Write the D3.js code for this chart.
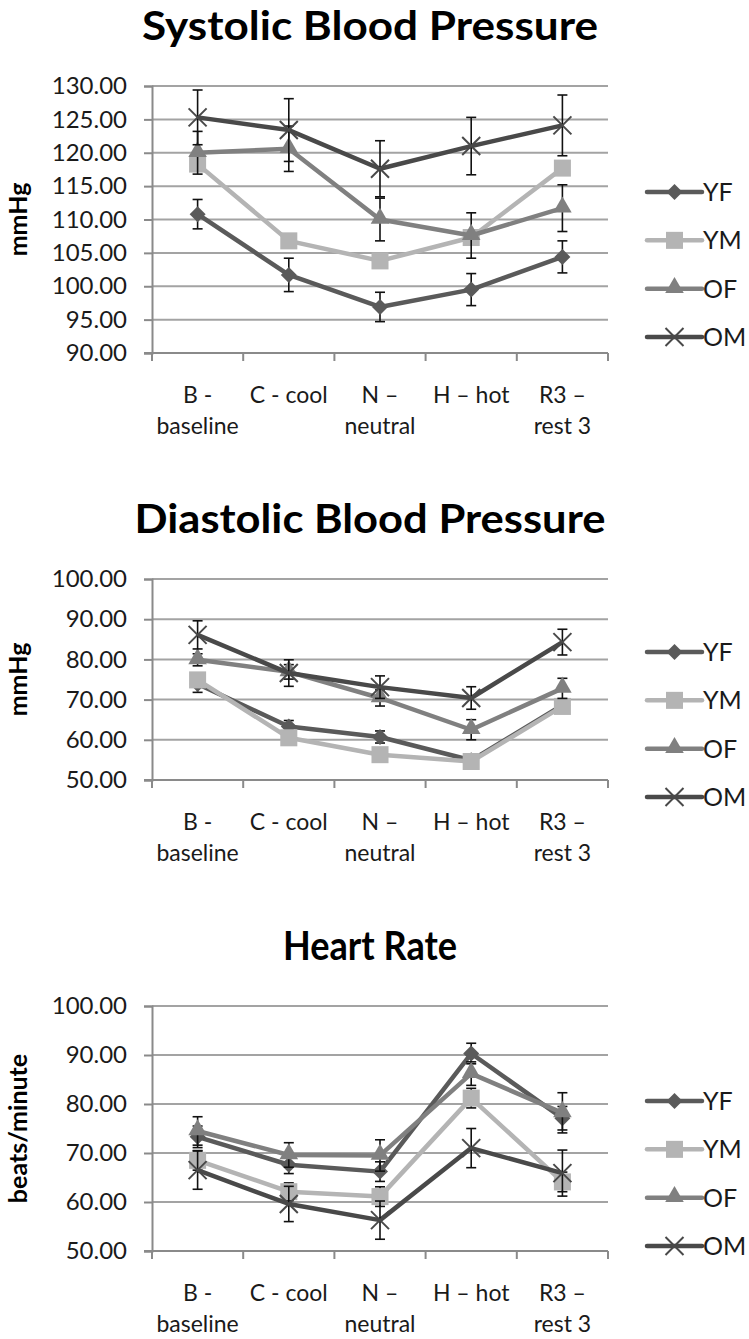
<!DOCTYPE html>
<html><head><meta charset="utf-8">
<script src="https://cdn.jsdelivr.net/npm/d3@7"></script>
<style>
body{margin:0;background:#fff}
svg{display:block;font-family:Lato,"Open Sans",sans-serif}
</style>
</head><body>
<svg id="c" width="749" height="1339"></svg>
<script>
// ---------- data ----------
const categories = ["B -\nbaseline", "C - cool", "N –\nneutral", "H – hot", "R3 –\nrest 3"];
const seriesNames = ["YF", "YM", "OF", "OM"];

const sbpTicks = [90, 95, 100, 105, 110, 115, 120, 125, 130];
const sbpYF = [110.8, 101.7, 96.9, 99.5, 104.4];
const sbpYM = [118.3, 106.8, 103.8, 107.3, 117.7];
const sbpOF = [120.0, 120.6, 110.0, 107.6, 111.7];
const sbpOM = [125.3, 123.4, 117.6, 121.0, 124.1];
const sbpYFerr = [2.2, 2.5, 2.2, 2.4, 2.4];
const sbpYMerr = [1.0, 1.0, 1.0, 1.0, 1.0];
const sbpOFerr = [3.2, 3.4, 3.2, 3.4, 3.5];
const sbpOMerr = [4.1, 4.7, 4.2, 4.3, 4.55];

const dbpTicks = [50, 60, 70, 80, 90, 100];
const dbpYF = [73.9, 63.3, 60.7, 54.9, 68.6];
const dbpYM = [74.9, 60.5, 56.3, 54.6, 68.3];
const dbpOF = [79.9, 76.9, 70.4, 62.5, 72.8];
const dbpOM = [86.1, 76.6, 73.1, 70.4, 84.3];
const dbpYFerr = [2.1, 1.5, 1.5, 1.2, 1.5];
const dbpYMerr = [1.5, 1.5, 1.5, 1.2, 1.5];
const dbpOFerr = [1.5, 1.8, 2.0, 2.5, 2.5];
const dbpOMerr = [3.5, 3.3, 2.8, 2.8, 3.2];

const hrTicks = [50, 60, 70, 80, 90, 100];
const hrYF = [73.3, 67.6, 66.2, 90.3, 77.1];
const hrYM = [68.5, 62.1, 61.1, 81.2, 64.1];
const hrOF = [74.5, 69.6, 69.5, 86.2, 78.2];
const hrOM = [66.5, 59.6, 56.3, 71.0, 65.9];
const hrYFerr = [2.2, 1.8, 2.0, 2.1, 2.4];
const hrYMerr = [2.0, 1.8, 2.0, 2.0, 2.0];
const hrOFerr = [2.9, 2.5, 3.2, 2.4, 4.1];
const hrOMerr = [3.9, 3.6, 3.9, 4.0, 4.7];

// ---------- styles ----------
const colors = {YF: "#5a5a5a", YM: "#b4b4b4", OF: "#808080", OM: "#494949"};
const gridColor = "#a3a3a3";
const axisColor = "#8a8a8a";

const svg = d3.select("#c");

function marker(g, name, color) {
  if (name === "YF") {
    g.append("path").attr("d", d3.symbol(d3.symbolSquare, 128)()).attr("transform", "rotate(45)").attr("fill", color);
  } else if (name === "YM") {
    g.append("path").attr("d", d3.symbol(d3.symbolSquare, 290)()).attr("fill", color);
  } else if (name === "OF") {
    g.append("path").attr("d", d3.symbol(d3.symbolTriangle, 150)()).attr("transform", "translate(0,-1)").attr("fill", color);
  } else {
    g.append("path").attr("d", "M-9,-9L9,9M-9,9L9,-9").attr("stroke", color).attr("stroke-width", 2).attr("fill", "none");
  }
}

function drawChart(cfg) {
  const left = 152, right = 608;
  const g = svg.append("g");
  const x = d3.scaleBand().domain(categories).range([left, right]).padding(0);
  const cx = c => x(c) + x.bandwidth() / 2;
  const y = d3.scaleLinear().domain([cfg.ticks[0], cfg.ticks[cfg.ticks.length - 1]]).range([cfg.bottom, cfg.top]);

  // title
  g.append("text").attr("x", 370).attr("y", cfg.top - 46).attr("text-anchor", "middle")
    .attr("font-size", 40).attr("font-weight", "bold").attr("fill", "#000")
    .attr("textLength", cfg.titleWidth).attr("lengthAdjust", "spacingAndGlyphs")
    .text(cfg.title);

  // gridlines
  g.append("g").selectAll("line").data(cfg.ticks.slice(1)).join("line")
    .attr("x1", left).attr("x2", right).attr("y1", d => y(d)).attr("y2", d => y(d))
    .attr("stroke", gridColor).attr("stroke-width", 2);

  // y axis
  const ya = g.append("g").attr("transform", `translate(${left},0)`)
    .call(d3.axisLeft(y).tickValues(cfg.ticks).tickFormat(d3.format(".2f")).tickSize(8).tickPadding(17));
  ya.select(".domain").attr("stroke", axisColor).attr("stroke-width", 2);
  ya.selectAll(".tick line").attr("stroke", axisColor).attr("stroke-width", 2);
  ya.selectAll(".tick text").attr("font-size", 24).attr("font-family", "Lato").attr("fill", "#1a1a1a");

  // x axis
  g.append("line").attr("x1", left - 8).attr("x2", right).attr("y1", cfg.bottom).attr("y2", cfg.bottom)
    .attr("stroke", axisColor).attr("stroke-width", 2);
  const bounds = categories.map(c => x(c)).concat([right]);
  g.append("g").selectAll("line").data(bounds).join("line")
    .attr("x1", d => d).attr("x2", d => d).attr("y1", cfg.bottom).attr("y2", cfg.bottom + 8)
    .attr("stroke", axisColor).attr("stroke-width", 2);
  categories.forEach(c => {
    const t = g.append("text").attr("text-anchor", "middle").attr("font-size", 23).attr("fill", "#1a1a1a");
    c.split("\n").forEach((line, i) => {
      t.append("tspan").attr("x", cx(c)).attr("y", cfg.bottom + 50 + i * 31).text(line);
    });
  });

  // y title
  const ym = (cfg.top + cfg.bottom) / 2;
  g.append("text").attr("transform", `translate(27,${ym}) rotate(-90)`).attr("text-anchor", "middle")
    .attr("font-size", 25).attr("font-weight", "bold").attr("fill", "#000").text(cfg.yTitle);

  // series
  const line = d3.line().x((d, i) => cx(categories[i])).y(d => y(d));
  seriesNames.forEach((name, si) => {
    const vals = cfg.values[si], errs = cfg.errors[si], col = colors[name];
    const sg = g.append("g");
    sg.append("path").attr("d", line(vals)).attr("fill", "none").attr("stroke", col)
      .attr("stroke-width", 4.5).attr("stroke-linejoin", "round");
    vals.forEach((v, i) => {
      const px = cx(categories[i]);
      const e = errs[i];
      const eg = sg.append("g").attr("stroke", "#111").attr("stroke-width", 1.6);
      eg.append("line").attr("x1", px).attr("x2", px).attr("y1", y(v - e)).attr("y2", y(v + e));
      eg.append("line").attr("x1", px - 5).attr("x2", px + 5).attr("y1", y(v - e)).attr("y2", y(v - e));
      eg.append("line").attr("x1", px - 5).attr("x2", px + 5).attr("y1", y(v + e)).attr("y2", y(v + e));
    });
    vals.forEach((v, i) => {
      marker(sg.append("g").attr("transform", `translate(${cx(categories[i])},${y(v)})`), name, col);
    });
  });

  // legend
  const lc = ym + 45;
  seriesNames.forEach((name, i) => {
    const ly = lc + (i - 1.5) * 48.3;
    const lg = g.append("g");
    lg.append("line").attr("x1", 647).attr("x2", 702).attr("y1", ly).attr("y2", ly)
      .attr("stroke", colors[name]).attr("stroke-width", 4.5).attr("stroke-linecap", "round");
    marker(lg.append("g").attr("transform", `translate(674.5,${ly})`), name, colors[name]);
    lg.append("text").attr("x", 703).attr("y", ly + 9).attr("font-size", 25).attr("fill", "#1a1a1a").text(name);
  });
}

drawChart({title: "Systolic Blood Pressure", titleWidth: 456, yTitle: "mmHg", top: 86, bottom: 353,
  ticks: sbpTicks, values: [sbpYF, sbpYM, sbpOF, sbpOM], errors: [sbpYFerr, sbpYMerr, sbpOFerr, sbpOMerr]});
drawChart({title: "Diastolic Blood Pressure", titleWidth: 471, yTitle: "mmHg", top: 579, bottom: 780,
  ticks: dbpTicks, values: [dbpYF, dbpYM, dbpOF, dbpOM], errors: [dbpYFerr, dbpYMerr, dbpOFerr, dbpOMerr]});
drawChart({title: "Heart Rate", titleWidth: 174, yTitle: "beats/minute", top: 1006, bottom: 1251,
  ticks: hrTicks, values: [hrYF, hrYM, hrOF, hrOM], errors: [hrYFerr, hrYMerr, hrOFerr, hrOMerr]});
</script>
</body></html>
